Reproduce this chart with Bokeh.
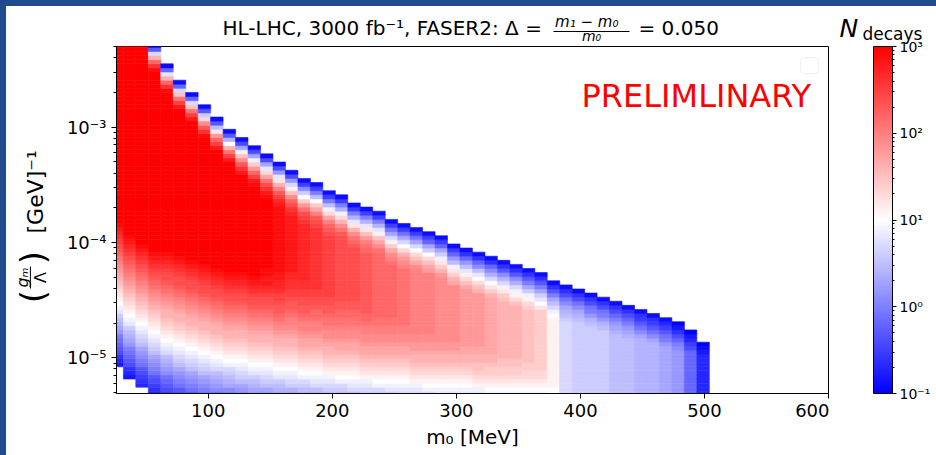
import math
from bokeh.plotting import figure
from bokeh.models import (ColumnDataSource, LogColorMapper, ColorBar, FixedTicker,
                          CustomJSTickFormatter, Label, BoxAnnotation, Range1d, Spacer)
from bokeh.layouts import column, row
from bokeh.transform import transform
from bokeh.embed import file_html
from bokeh.resources import INLINE

# ---------------- data ----------------
# mass grid (column centres, MeV) and column spacing
M0_CENTERS = [26.5, 36.6, 46.6, 56.7, 66.7, 76.8, 86.8, 96.9, 106.9, 117.0,
              127.0, 137.1, 147.1, 157.2, 167.2, 177.3, 187.3, 197.4, 207.4, 217.5,
              227.5, 237.6, 247.6, 257.7, 267.7, 277.8, 287.8, 297.9, 307.9, 318.0,
              328.0, 338.1, 348.1, 358.2, 368.2, 378.3, 388.3, 398.4, 408.4, 418.5,
              428.5, 438.6, 448.6, 458.7, 468.7, 478.8, 488.8, 498.9]
M0_SPACING = 10.05
# coupling grid: log10 of the lowest row edge and the row step (decades)
LOG_G_FIRST_EDGE = -5.3265
LOG_G_STEP = 0.0355

# per column: first filled row, first empty row above the filled cells
COL_BOTTOM_ROW = [7, 4, 2] + [0] * 45
COL_TOP_ROW = [86, 86, 86, 86, 81, 77, 74, 71, 68, 65, 63, 61, 59, 57, 55, 53, 52, 50,
               49, 47, 46, 45, 43, 42, 41, 40, 39, 37, 36, 35, 34, 33, 32, 31, 30, 28,
               27, 26, 25, 24, 23, 22, 21, 20, 19, 18, 16, 13]

# level codes: index i -> log10(N_decays) = -1 + 0.1 i
LEVEL_CODES = "0123456789ABCDEFGHIJKLMNOPQRSTUVWXYZabcde"

# run-length description of each column (bottom -> top):
# rising cells, repeated plateau level, falling cells at the top
COL_RISE = [
    "2346789ACDEFGIJKLMNOPQRSTUVWXYZabcd",
    "2346789ACDEFGIJKLMNOPQRSTUVWXYZabcd",
    "345679ABCDFGHIJKLMNOPQRSTUVWXYZabcd",
    "345679ABCDFGHIJKLMNOPQRSTUVWXYZabcd",
    "56789BCDEFHIJKLMNOPQQRSTUVWXYYZabcd",
    "679ABCDFGHIJKLMNOPQQRSTUVWXYYZabcd",
    "79ABCDFGHIJKLMNOPQQRSTUVWXYYZabcd",
    "9ABCDFGHIJKLMNOPQQRSTUVWXYYZabcd",
    "9BCDEFHIJKLMNOPQQRSTUVWXYYZabcd",
    "ABDEFGHJKLMNOPQQRSTUVWXYYZabcd",
    "BCDFGHIJKLMNOPQQRSTUVWXYYZabcd",
    "CDEFGIJKLMNOPQQRSTUVWXYYZabcd",
    "CDFGHIJKLMNOPQQRSTUVWXYYZabccdd",
    "DEFGIJKLMNOPQQRSTUVWXXYZZabbcc",
    "DEGHIJKLMNOPQQRSTUUVWXXYZZaabb",
    "EFGHJKLMNOPQRRSTUUVWXXYYZZaa",
    "EFHIJKLMNOPQRRSTUUVWWXYYZZ",
    "FGHIJLMNOPQQRSTTUVVWXXYY",
    "FGHJKLMNOPQRRSTTUVVWWXX",
    "FHIJKLMNOPQRRSTTUVVWWXX",
    "GHIJLMNOPQRRSTTUUVWW",
    "GHJKLMNOPQRRSTTUUVV",
    "GIJKLMNOPQRRSTTUUVV",
    "HIJKLMNOPQRRSTTUU",
    "HIJLMNOPQQRSSTT",
    "HJKLMNOPQQRSSTT",
    "IJKLMNOPQQRSS",
    "IJKLMNOPQQRSS",
    "IJKLMNOPQQRR",
    "IJLMNOPPQQRR",
    "JKLMNOOPQQ",
    "JKLMNOOPP",
    "JKLMNOOPP",
    "JKLMNNOO",
    "JKLMNN",
    "KK",
    "", "", "", "", "", "", "", "", "", "", "", "",
]
COL_PEAK = "eeeeeeeeeeeeedcbaZYYXWWVUUTTSSRQQPOLHGGGFFEEDC83"
COL_FALL = [
    "", "", "", "daWQH71", "daWQI81", "cZVPH81", "cZVPH81", "daXTNG71", "cZWSMF71",
    "cZVQKE71", "caXTPJD61", "dcZWSOJD61", "dcaYVRNID61", "cbZXUQMIC61",
    "baYWTPLHC61", "aZYVSOKGB51", "ZYXUROKFA51", "YXWURNJFA51", "XVTQNJEA51",
    "XWVTQMIEA51", "WVUSPMIEA51", "VTRPLIEA51", "VUTROLHD951", "UTSQNKHD951",
    "TRPNKHD951", "SRPNKGD851", "SQOMJGD851", "RQOMJFC851", "RPNLIFC841",
    "QPNKIFB841", "QOMKHEB841", "POMJHEB741", "PNLJHEB741", "ONLJGDA741",
    "MKIGDA741", "KJHFDA741", "GFEDB9641", "FEDB9641", "FECA9641", "FECA9641",
    "EDCA8641", "EDCA8641", "DB97541", "DB97541", "CA97531", "BA86420", "65320", "210",
]

X_TICKS = [100, 200, 300, 400, 500, 600]
Y_TICKS = [1e-5, 1e-4, 1e-3]
Y_MINOR = [5e-6, 6e-6, 7e-6, 8e-6, 9e-6,
           2e-5, 3e-5, 4e-5, 5e-5, 6e-5, 7e-5, 8e-5, 9e-5,
           2e-4, 3e-4, 4e-4, 5e-4, 6e-4, 7e-4, 8e-4, 9e-4,
           2e-3, 3e-3, 4e-3, 5e-3]
CB_TICKS = [0.1, 1, 10, 100, 1000]
CB_MINOR = [0.2, 0.3, 0.4, 0.5, 0.6, 0.7, 0.8, 0.9, 2, 3, 4, 5, 6, 7, 8, 9,
            20, 30, 40, 50, 60, 70, 80, 90, 200, 300, 400, 500, 600, 700, 800, 900]

# ---------------- build cells ----------------
left, right, bottom, top, n_dec = [], [], [], [], []
for c, m in enumerate(M0_CENTERS):
    rise, peak, fall = COL_RISE[c], COL_PEAK[c], COL_FALL[c]
    n_mid = COL_TOP_ROW[c] - COL_BOTTOM_ROW[c] - len(rise) - len(fall)
    assert n_mid >= 0, c
    codes = rise + peak * n_mid + fall
    for j, ch in enumerate(codes):
        k = COL_BOTTOM_ROW[c] + j
        left.append(m - M0_SPACING / 2)
        right.append(m + M0_SPACING / 2)
        bottom.append(10 ** (LOG_G_FIRST_EDGE + LOG_G_STEP * k))
        top.append(10 ** (LOG_G_FIRST_EDGE + LOG_G_STEP * (k + 1)))
        n_dec.append(10 ** round(-1 + 0.1 * LEVEL_CODES.index(ch), 2))

src = ColumnDataSource(dict(left=left, right=right, bottom=bottom, top=top, N=n_dec))

# matplotlib "bwr" colormap
BWR = []
for i in range(256):
    t = i / 255
    if t < 0.5:
        v = int(round(255 * 2 * t))
        BWR.append("#%02x%02x%02x" % (v, v, 255))
    else:
        v = int(round(255 * (2 - 2 * t)))
        BWR.append("#%02x%02x%02x" % (255, v, v))

mapper = LogColorMapper(palette=BWR, low=0.1, high=1000)
FONT = "DejaVu Sans"

sup_js = """
const sup = {"-": "\u207b", "0": "\u2070", "1": "\u00b9", "2": "\u00b2", "3": "\u00b3",
             "4": "\u2074", "5": "\u2075", "6": "\u2076", "7": "\u2077", "8": "\u2078", "9": "\u2079"};
const e = Math.round(Math.log10(tick));
return "10" + String(e).split("").map(c => sup[c]).join("");
"""


def blank(width, height):
    f = figure(width=width, height=height, x_range=Range1d(0, 1), y_range=Range1d(0, 1),
               output_backend="svg", toolbar_location=None,
               x_axis_location=None, y_axis_location=None,
               min_border_left=0, min_border_right=0, min_border_top=0, min_border_bottom=0,
               background_fill_color="white", border_fill_color="white")
    f.frame_align = False
    f.outline_line_color = None
    f.xgrid.visible = False
    f.ygrid.visible = False
    return f


def lab(fig, x, y, text, size, **kw):
    kw.setdefault("text_baseline", "alphabetic")
    fig.add_layout(Label(x=x, y=y, x_units="screen", y_units="screen", text=text,
                         text_font=FONT, text_font_size=size,
                         text_color=kw.pop("text_color", "black"), **kw))


def bar(fig, l, r, b, t):
    fig.add_layout(BoxAnnotation(left=l, right=r, bottom=b, top=t,
                                 left_units="screen", right_units="screen",
                                 top_units="screen", bottom_units="screen",
                                 fill_color="black", fill_alpha=1, line_color=None))


# ---------------- main plot ----------------
p = figure(width=773, height=410, x_range=Range1d(26, 600),
           y_range=Range1d(4.9e-6, 5.0e-3), y_axis_type="log",
           output_backend="svg", toolbar_location=None,
           min_border_left=60, min_border_right=1, min_border_top=1,
           min_border_bottom=62, background_fill_color="white",
           border_fill_color="white")
p.frame_align = False

p.quad(left="left", right="right", bottom="bottom", top="top", source=src,
       fill_color=transform("N", mapper), line_color=transform("N", mapper),
       line_width=0.6)

p.xgrid.visible = False
p.ygrid.visible = False
p.outline_line_color = "black"
p.outline_line_width = 1

for ax in (p.xaxis[0], p.yaxis[0]):
    ax.major_label_text_font = FONT
    ax.major_label_text_font_size = "18px"
    ax.major_label_text_color = "black"
    ax.axis_label_text_font = FONT
    ax.axis_label_text_font_size = "20px"
    ax.axis_label_text_font_style = "normal"
    ax.axis_label_text_color = "black"
    ax.major_tick_out = 5
    ax.major_tick_in = 0
    ax.minor_tick_out = 3
    ax.minor_tick_in = 0
    ax.axis_line_color = "black"
    ax.major_tick_line_color = "black"
    ax.minor_tick_line_color = "black"

p.xaxis.ticker = FixedTicker(ticks=X_TICKS)
p.xaxis.minor_tick_line_color = None
p.xaxis.axis_label = "m\u2080 [MeV]"
p.yaxis.ticker = FixedTicker(ticks=Y_TICKS, minor_ticks=Y_MINOR)
p.yaxis.formatter = CustomJSTickFormatter(code=sup_js)

# watermark and empty legend frame (frame-relative screen coords)
lab(p, 465, 298, "PRELIMLINARY", "32px", text_color="#ff0000")
p.add_layout(BoxAnnotation(left=684, right=702, top=336, bottom=320,
                           left_units="screen", right_units="screen",
                           top_units="screen", bottom_units="screen",
                           fill_color="white", fill_alpha=1, line_color="#cccccc",
                           line_width=1, border_radius=4))

# ---------------- title strip (page y 6..45) ----------------
head = blank(823, 39)
lab(head, 216, 18, "HL-LHC, 3000 fb\u207b\u00b9, FASER2: \u0394 =", "20px")
lab(head, 585, 24, "m\u2081  \u2212  m\u2080", "15px", text_align="center",
    text_font_style="italic")
bar(head, 547, 623, 13.6, 14.4)
lab(head, 585, 9.5, "m\u2080", "14px", text_align="center", text_font_style="italic")
lab(head, 632, 18, "= 0.050", "20px")

# ---------------- y-axis label strip ----------------
ylab = blank(50, 410)
rot = math.pi / 2
lab(ylab, 26, 159, "(", "34px", angle=rot, text_align="center", text_baseline="middle")
lab(ylab, 16, 178, "g\u2098", "16px", angle=rot, text_align="center",
    text_baseline="middle", text_font_style="italic")
bar(ylab, 23.4, 24.4, 167, 189)
lab(ylab, 34, 178, "\u039b", "16px", angle=rot, text_align="center", text_baseline="middle")
lab(ylab, 26, 198, ")", "34px", angle=rot, text_align="center", text_baseline="middle")
lab(ylab, 29, 222, "[GeV]\u207b\u00b9", "22px", angle=rot, text_align="left")

# ---------------- colour-bar strip ----------------
cbf = blank(107, 449)
cb = ColorBar(color_mapper=mapper, location=(44, 62), width=19, height=347,
              margin=0, padding=0,
              ticker=FixedTicker(ticks=CB_TICKS, minor_ticks=CB_MINOR),
              formatter=CustomJSTickFormatter(code=sup_js),
              major_label_text_font=FONT, major_label_text_font_size="14px",
              major_label_text_color="black",
              major_tick_in=0, major_tick_out=4, minor_tick_in=0, minor_tick_out=2,
              major_tick_line_color="black", minor_tick_line_color="black",
              bar_line_color="black", label_standoff=3,
              background_fill_color=None, border_line_color=None)
cbf.add_layout(cb)
lab(cbf, 10, 427, "N", "25px", text_font_style="italic")
lab(cbf, 33, 422, "decays", "17px")

BLUE = "#1f4a8b"
page = column(
    Spacer(width=936, height=6, styles={"background-color": BLUE}),
    row(Spacer(width=6, height=449, styles={"background-color": BLUE}),
        column(head, row(ylab, p)),
        cbf),
)

open("out.html", "w", encoding="utf-8").write(file_html(page, INLINE))
